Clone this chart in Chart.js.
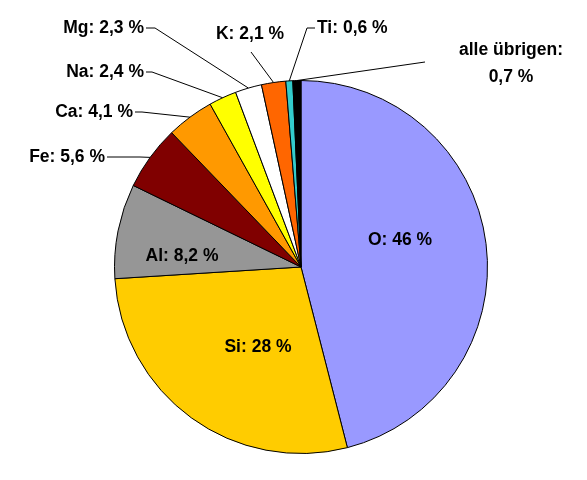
<!DOCTYPE html>
<html>
<head>
<meta charset="utf-8">
<script src="https://cdn.jsdelivr.net/npm/chart.js@4"></script>
<style>
  body { margin: 0; background: #fff; }
</style>
</head>
<body>
<canvas id="pie" width="587" height="480"></canvas>
<script>
const elements = ["O", "Si", "Al", "Fe", "Ca", "Na", "Mg", "K", "Ti", "alle übrigen"];
const shares = [46, 28, 8.2, 5.6, 4.1, 2.4, 2.3, 2.1, 0.6, 0.7];
const shareLabels = ["46", "28", "8,2", "5,6", "4,1", "2,4", "2,3", "2,1", "0,6", "0,7"];
const colors = ["#9999ff", "#ffcc00", "#969696", "#800000", "#ff9900",
    "#ffff00", "#ffffff", "#ff6600", "#33cccc", "#000000"];

// inside labels: [x, y]
const inside = { 0: [400, 240], 1: [258, 347], 2: [182, 256] };
// outside labels: [text x, text y, align, elbow x, elbow y]
const outside = {
    3: [105, 157, "right", 140, 157],
    4: [133, 112, "right", 142, 112],
    5: [144, 72, "right", 152, 72],
    6: [144, 28, "right", 155, 28],
    7: [250, 34, "center", 251, 52],
    8: [317, 28, "left", 307, 28],
};

const font = "bold 17.5px 'Liberation Sans', Arial, sans-serif";

const labelPlugin = {
    id: "pieLabels",
    afterDatasetsDraw(chart) {
        const ctx = chart.ctx;
        const arcs = chart.getDatasetMeta(0).data;
        ctx.save();
        ctx.font = font;
        ctx.fillStyle = "#000";
        ctx.strokeStyle = "#000";
        ctx.lineWidth = 1;
        ctx.textBaseline = "middle";
        arcs.forEach((arc, i) => {
            const mid = (arc.startAngle + arc.endAngle) / 2;
            const text = elements[i] + ": " + shareLabels[i] + " %";
            if (inside[i]) {
                ctx.textAlign = "center";
                ctx.fillText(text, inside[i][0], inside[i][1]);
                return;
            }
            const ex = arc.x + Math.cos(mid) * arc.outerRadius;
            const ey = arc.y + Math.sin(mid) * arc.outerRadius;
            ctx.beginPath();
            if (i === 9) {
                ctx.moveTo(ex, ey);
                ctx.lineTo(425, 62);
                ctx.stroke();
                ctx.textAlign = "center";
                ctx.fillText("alle übrigen:", 511, 50);
                ctx.fillText(shareLabels[i] + " %", 511, 77);
                return;
            }
            const p = outside[i];
            ctx.moveTo(ex, ey);
            ctx.lineTo(p[3], p[4]);
            if (p[2] !== "center") ctx.lineTo(p[0] + (p[2] === "right" ? 2 : -2), p[1]);
            ctx.stroke();
            ctx.textAlign = p[2];
            ctx.fillText(text, p[0], p[1]);
        });
        ctx.restore();
    },
};

new Chart(document.getElementById("pie"), {
    type: "pie",
    data: {
        labels: elements,
        datasets: [{
            data: shares,
            backgroundColor: colors,
            borderColor: "#000",
            borderWidth: 1,
        }],
    },
    options: {
        responsive: false,
        animation: false,
        layout: { padding: { left: 114, right: 99, top: 80, bottom: 26 } },
        plugins: {
            legend: { display: false },
            tooltip: { enabled: false },
        },
    },
    plugins: [labelPlugin],
});
</script>
</body>
</html>
